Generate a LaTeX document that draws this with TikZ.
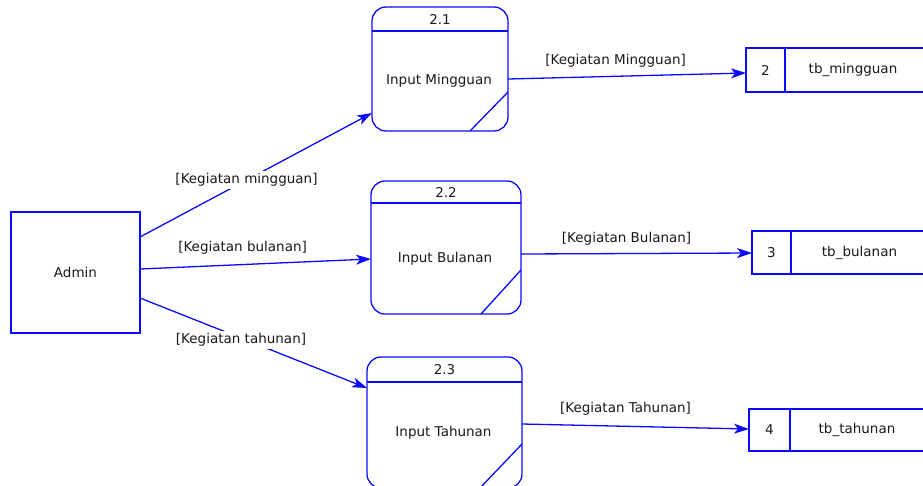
\documentclass[tikz,border=0pt]{standalone}
\usepackage{fontspec}
\setmainfont{DejaVu Sans}
\usetikzlibrary{calc,arrows.meta}
\definecolor{flowblue}{RGB}{10,10,255}
\begin{document}
\begin{tikzpicture}[x=1pt,y=-1pt,
  every node/.style={font=\fontsize{13.5}{16}\selectfont, text=black!90},
  entity/.style={draw=flowblue, line width=1.3pt, rectangle, inner sep=0pt, outer sep=0pt},
  proc/.style={draw=flowblue, line width=1.3pt, rectangle, rounded corners=14pt, inner sep=0pt, outer sep=0pt},
  store/.style={draw=flowblue, line width=1.3pt, rectangle, inner sep=0pt, outer sep=0pt},
  part/.style={draw=flowblue, line width=1.3pt},
  flow/.style={draw=flowblue, line width=1.3pt, -{Stealth[length=15pt,width=10pt,inset=4pt]}},
  lbl/.style={fill=white, inner sep=2.5pt},
  lblup/.style={inner sep=1pt},
]
\useasboundingbox (0,0) rectangle (923,485);
\clip (0,0) rectangle (923,485);

% external entity
\node[entity, minimum width=129pt, minimum height=121pt] (admin) at (75.5,272.5) {Admin};

% processes
\node[proc, minimum width=136pt, minimum height=124pt] (p1) at (440,69) {};
\node[proc, minimum width=150pt, minimum height=133pt] (p2) at (446,247.5) {};
\node[proc, minimum width=155pt, minimum height=131pt] (p3) at (444.5,422.5) {};

\draw[part] ($(p1.north west)+(0,24)$) -- ($(p1.north east)+(0,24)$);
\draw[part] ($(p2.north west)+(0,22)$) -- ($(p2.north east)+(0,22)$);
\draw[part] ($(p3.north west)+(0,25)$) -- ($(p3.north east)+(0,25)$);

\draw[part] ($(p1.south east)+(-38,0)$) -- ($(p1.south east)+(0,-39)$);
\draw[part] ($(p2.south east)+(-40,0)$) -- ($(p2.south east)+(0,-44)$);
\draw[part] ($(p3.south east)+(-42,0)$) -- ($(p3.south east)+(0,-44)$);

\node (p1num) at ($(p1.north)+(0,12)$) {2.1};
\node (p2num) at ($(p2.north)+(0,11)$) {2.2};
\node (p3num) at ($(p3.north)+(0,12.5)$) {2.3};

\node (p1title) at ($(p1.center)+(-1,12)$) {Input Mingguan};
\node (p2title) at ($(p2.center)+(-1,11)$) {Input Bulanan};
\node (p3title) at ($(p3.center)+(-1,10)$) {Input Tahunan};

% data stores
\node[store, minimum width=180pt, minimum height=44pt] (s2) at (836,70) {};
\node[store, minimum width=174pt, minimum height=43pt] (s3) at (839,252.5) {};
\node[store, minimum width=177pt, minimum height=42pt] (s4) at (837.5,430) {};

\draw[part] ($(s2.north west)+(39,0)$) -- ($(s2.south west)+(39,0)$);
\draw[part] ($(s3.north west)+(39,0)$) -- ($(s3.south west)+(39,0)$);
\draw[part] ($(s4.north west)+(41,0)$) -- ($(s4.south west)+(41,0)$);

\node (s2id) at ($(s2.west)+(19.5,0)$) {2};
\node (s3id) at ($(s3.west)+(19.5,0)$) {3};
\node (s4id) at ($(s4.west)+(20.5,0)$) {4};

\node (s2name) at ($(s2.west)+(107,0)$) {tb\_mingguan};
\node (s3name) at ($(s3.west)+(107.5,0)$) {tb\_bulanan};
\node (s4name) at ($(s4.west)+(108,0)$) {tb\_tahunan};

% data flows
\draw[flow] ($(admin.north east)+(0,25)$) --
  node[lbl, pos=0.459] (l1) {[Kegiatan mingguan]} ($(p1.north west)+(0,106)$);
\draw[flow] ($(admin.north east)+(0,57)$) --
  node[lblup, pos=0.444, yshift=16.6pt] (l2) {[Kegiatan bulanan]} ($(p2.north west)+(0,78)$);
\draw[flow] ($(admin.north east)+(0,86)$) --
  node[lbl, pos=0.445, yshift=-1.5pt] (l3) {[Kegiatan tahunan]} ($(p3.north west)+(0,31)$);

\draw[flow] ($(p1.north east)+(0,72)$) --
  node[lblup, pos=0.452, yshift=15.6pt] (l4) {[Kegiatan Mingguan]} ($(s2.north west)+(0,25)$);
\draw[flow] ($(p2.north east)+(0,73)$) --
  node[lblup, pos=0.457, yshift=14.5pt] (l5) {[Kegiatan Bulanan]} ($(s3.north west)+(0,22)$);
\draw[flow] ($(p3.north east)+(0,67)$) --
  node[lblup, pos=0.456, yshift=17.3pt] (l6) {[Kegiatan Tahunan]} ($(s4.north west)+(0,20)$);
\end{tikzpicture}
\end{document}
